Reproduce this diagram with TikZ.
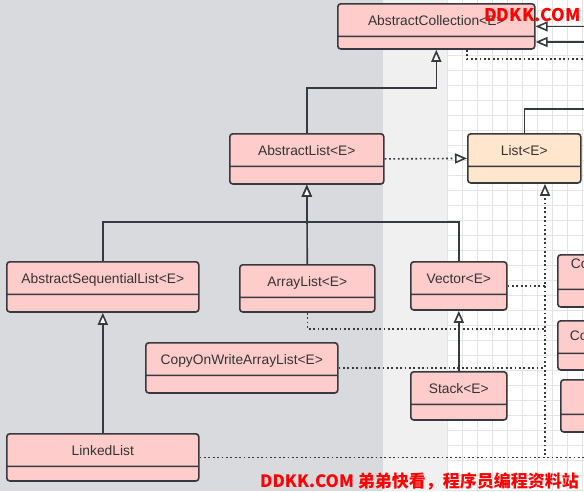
\documentclass[tikz,border=0pt]{standalone}
\usepackage{fontspec}
\setmainfont{Liberation Sans}
\newfontfamily\cjk{Noto Sans CJK SC}
\usepackage{tikz}
\usetikzlibrary{arrows.meta,shapes.multipart}
\definecolor{Ink}{HTML}{333333}
\definecolor{Edge}{HTML}{36393D}
\definecolor{Pink}{HTML}{FFCCCC}
\definecolor{Peach}{HTML}{FFE6CC}
\definecolor{Slate}{HTML}{D9DADE}
\definecolor{Mist}{HTML}{F0F0F0}
\definecolor{GridLine}{HTML}{E4E4E4}
\definecolor{Mark}{HTML}{FF0000}
\newcommand{\clsname}[2][15]{\rule[-10pt]{0pt}{31pt}#2\nodepart{two}\rule{0pt}{#1pt}}

\begin{document}
\begin{tikzpicture}[x=1pt,y=-1pt,>=Latex]
\tikzset{classbox/.style={rectangle split,rectangle split parts=2,draw=Edge,fill=Pink,line width=1.6pt,rounded corners=3pt,inner xsep=0pt,inner ysep=0pt,anchor=north west,text=Ink,font=\fontsize{13.8}{16}\selectfont}, gen/.style={-{Triangle[fill=white,length=12pt,width=10pt,line width=1.6pt]},line width=1.6pt,Edge}, plain/.style={line width=1.6pt,Edge}, dots/.style={line width=1.6pt,Edge,dash pattern=on 1.8pt off 2.6pt}, real/.style={dots,-{Triangle[fill=white,length=12pt,width=10pt,line width=1.6pt]}}}
\useasboundingbox (0,0) rectangle (584,491);
\clip (0,0) rectangle (584,491);
% backdrop
\fill[Slate] (0,0) rectangle (383,491);
\fill[Mist] (383,0) rectangle (447,491);
\fill[white] (447,0) rectangle (584,491);
\foreach \gx in {447,462,...,582} \draw[GridLine,line width=0.8pt] (\gx,0) -- (\gx,491);
\foreach \gy in {10,25,...,490} \draw[GridLine,line width=0.8pt] (447,\gy) -- (584,\gy);
\coordinate (bus) at (545,0);
\coordinate (offR) at (600,0);
% classes
\node[classbox,minimum width=197pt] (coll) at (337,3) {\clsname[11]{AbstractCollection<E>}};
\node[classbox,minimum width=154pt] (alist) at (229,133) {\clsname[16]{AbstractList<E>}};
\node[classbox,minimum width=113pt,fill=Peach] (list) at (467,133) {\clsname{List<E>}};
\node[classbox,minimum width=192pt] (aslist) at (6,261) {\clsname[16]{AbstractSequentialList<E>}};
\node[classbox,minimum width=135pt] (arraylist) at (239,264) {\clsname[13]{ArrayList<E>}};
\node[classbox,minimum width=96pt] (vector) at (410,261) {\clsname[14]{Vector<E>}};
\node[classbox,minimum width=192pt] (cow) at (145,342) {\clsname[16]{CopyOnWriteArrayList<E>}};
\node[classbox,minimum width=96pt] (stack) at (410,371) {\clsname[14]{Stack<E>}};
\node[classbox,minimum width=192pt] (linked) at (6,433) {\clsname[13]{LinkedList}};
\node[classbox,minimum width=60pt,inner xsep=13pt,rectangle split part align=left] (cutA) at (557,254) {\rule[-20pt]{0pt}{33pt}Co\nodepart{two}\rule{0pt}{16pt}};
\node[classbox,minimum width=60pt,inner xsep=12pt,rectangle split part align=left] (cutB) at (557,320) {\rule[-12pt]{0pt}{31pt}Co\nodepart{two}\rule{0pt}{15pt}};
\node[classbox,minimum width=60pt] (cutC) at (560,379) {\rule{0pt}{33pt}\nodepart{two}\rule{0pt}{16pt}};
% links
\draw[gen] (alist.north) -- ++(0,-45) -| (coll.south);
\draw[real] (alist.east) -- (list.west);
\draw[gen] (arraylist.north) -- (alist.south);
\draw[gen] (aslist.north) -- ++(0,-39) -| (alist.south);
\draw[gen] (vector.north) -- ++(0,-39) -| (alist.south);
\draw[gen] (linked.north) -- (aslist.south);
\draw[gen] (stack.north) -- (vector.south);
\draw[dots] (vector.east) -- (vector.east -| bus);
\draw[dots] (arraylist.south) |- (bus |- 0,329);
\draw[dots] (cow.east) -- (cow.east -| bus);
\draw[real] (linked.east) -| (bus |- list.south);
\draw[dots] (linked.east) -- (linked.east -| offR);
\draw[gen] (coll.east -| offR) -- (coll.east);
\draw[gen] (offR |- 0,42) -- (coll.east |- 0,42);
\draw[dots] ([xshift=30.5pt]coll.south) |- (offR |- 0,59);
\draw[plain] (list.north) |- (offR |- 0,109);
% watermark
\node[anchor=base west,inner sep=0pt,text=Mark,font=\cjk\bfseries\fontsize{17.5}{20}\selectfont] (markTop) at (484,21) {DDKK.COM};
\node[anchor=base west,inner sep=0pt,text=Mark,font=\cjk\bfseries\fontsize{17}{20}\selectfont] (markBot) at (260,487) {DDKK.COM 弟弟快看，程序员编程资料站};
\end{tikzpicture}
\end{document}
